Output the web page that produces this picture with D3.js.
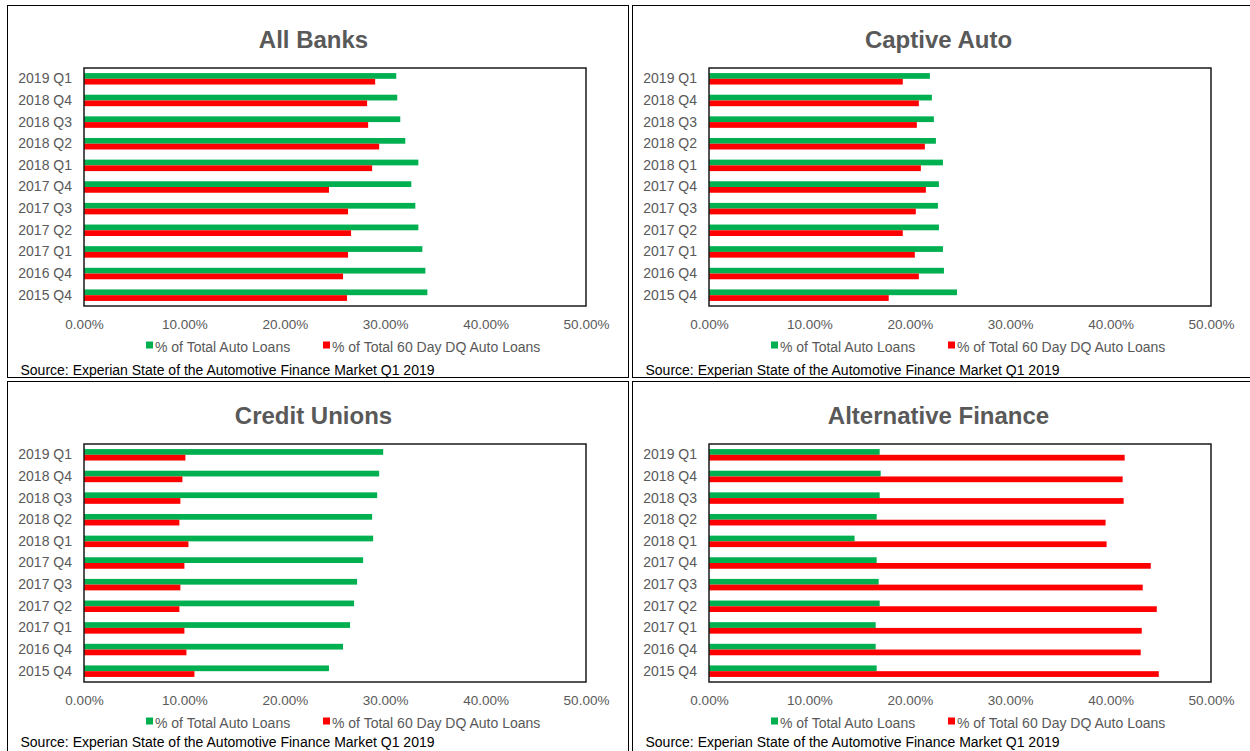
<!DOCTYPE html>
<html>
<head>
<meta charset="utf-8">
<script src="https://cdn.jsdelivr.net/npm/d3@7"></script>
<style>
  html, body { margin: 0; padding: 0; background: #fff; }
  svg { display: block; }
  text { font-family: "Liberation Sans", Arial, sans-serif; }
</style>
</head>
<body>
<svg id="chart" width="1250" height="751"></svg>
<script>
// ---- Data ----
const categories = ["2019 Q1","2018 Q4","2018 Q3","2018 Q2","2018 Q1","2017 Q4","2017 Q3","2017 Q2","2017 Q1","2016 Q4","2015 Q4"];
const seriesNames = ["% of Total Auto Loans", "% of Total 60 Day DQ Auto Loans"];
const panelTitles = ["All Banks", "Captive Auto", "Credit Unions", "Alternative Finance"];
const tickValues = [0, 0.1, 0.2, 0.3, 0.4, 0.5];
const sourceText = "Source: Experian State of the Automotive Finance Market Q1 2019";

const allBanksTotal = [31.1, 31.2, 31.5, 32.0, 33.3, 32.6, 33.0, 33.3, 33.7, 34.0, 34.2];
const allBanksDQ    = [29.0, 28.2, 28.3, 29.4, 28.7, 24.4, 26.3, 26.6, 26.3, 25.8, 26.2];
const captiveTotal  = [22.0, 22.2, 22.4, 22.6, 23.3, 22.9, 22.8, 22.9, 23.3, 23.4, 24.7];
const captiveDQ     = [19.3, 20.9, 20.7, 21.5, 21.1, 21.6, 20.6, 19.3, 20.5, 20.9, 17.9];
const cuTotal       = [29.8, 29.4, 29.2, 28.7, 28.8, 27.8, 27.2, 26.9, 26.5, 25.8, 24.4];
const cuDQ          = [10.1, 9.8, 9.6, 9.5, 10.4, 10.0, 9.6, 9.5, 10.0, 10.2, 11.0];
const altTotal      = [17.0, 17.1, 17.0, 16.7, 14.5, 16.7, 16.9, 17.0, 16.6, 16.6, 16.7];
const altDQ         = [41.4, 41.2, 41.3, 39.5, 39.6, 44.0, 43.2, 44.6, 43.1, 43.0, 44.8];

const panelData = [
  [allBanksTotal, allBanksDQ],
  [captiveTotal, captiveDQ],
  [cuTotal, cuDQ],
  [altTotal, altDQ]
];

// ---- Layout ----
const colors = ["#00B050", "#FF0000"];
const panelW = 621, panelH = 372;
const panelOrigins = [[7, 5], [632, 5], [7, 381], [632, 381]];
const sourceY = [370, 370, 366, 366];
const plot = { left: 77, right: 579, top: 63, bottom: 301 };

const svg = d3.select("#chart");

panelData.forEach((series, pi) => {
  const [ox, oy] = panelOrigins[pi];
  const g = svg.append("g").attr("transform", `translate(${ox},${oy})`);

  g.append("rect")
    .attr("x", 0.5).attr("y", 0.5)
    .attr("width", panelW).attr("height", panelH)
    .attr("fill", "#fff").attr("stroke", "#000").attr("stroke-width", 1);

  g.append("text")
    .attr("x", panelW / 2 - 4).attr("y", 42.5)
    .attr("text-anchor", "middle")
    .attr("font-size", 24).attr("font-weight", "bold")
    .attr("fill", "#595959")
    .text(panelTitles[pi]);

  const x = d3.scaleLinear().domain([0, 0.5]).range([plot.left, plot.right]);
  const y = d3.scaleBand().domain(categories).range([plot.top, plot.bottom])
    .paddingInner(0.47).paddingOuter(0.235);
  const ySub = d3.scaleBand().domain(d3.range(series.length)).range([0, y.bandwidth()]);

  const rows = categories.map((c, i) => ({ c, vals: series.map(s => s[i] / 100) }));

  const rowG = g.selectAll("g.row").data(rows).join("g")
    .attr("class", "row")
    .attr("transform", d => `translate(0,${y(d.c)})`);

  rowG.selectAll("rect").data(d => d.vals.map((v, si) => ({ v, si }))).join("rect")
    .attr("x", x(0))
    .attr("y", d => ySub(d.si))
    .attr("width", d => x(d.v) - x(0))
    .attr("height", ySub.bandwidth())
    .attr("fill", d => colors[d.si]);

  // plot border
  g.append("rect")
    .attr("x", plot.left).attr("y", plot.top)
    .attr("width", plot.right - plot.left).attr("height", plot.bottom - plot.top)
    .attr("fill", "none").attr("stroke", "#1a1a1a").attr("stroke-width", 1.5);

  // x axis
  const xAxis = g.append("g")
    .attr("transform", `translate(0,${plot.bottom})`)
    .call(d3.axisBottom(x).tickValues(tickValues).tickFormat(d3.format(".2%")).tickSize(0).tickPadding(13));
  xAxis.select(".domain").remove();
  xAxis.selectAll("text").attr("font-size", 13.5).attr("fill", "#595959")
    .attr("font-family", '"Liberation Sans", Arial, sans-serif');

  // y axis
  const yAxis = g.append("g")
    .attr("transform", `translate(${plot.left},0)`)
    .call(d3.axisLeft(y).tickSize(0).tickPadding(12));
  yAxis.select(".domain").remove();
  yAxis.selectAll("text").attr("font-size", 14).attr("fill", "#595959")
    .attr("font-family", '"Liberation Sans", Arial, sans-serif');

  // legend
  const legendX = [139, 316];
  seriesNames.forEach((name, si) => {
    const lg = g.append("g").attr("transform", `translate(${legendX[si]},336.5)`);
    lg.append("rect").attr("x", 0).attr("y", 0).attr("width", 7).attr("height", 7).attr("fill", colors[si]);
    lg.append("text").attr("x", 9).attr("y", 10.5).attr("font-size", 14).attr("fill", "#595959").text(name);
  });

  // source
  g.append("text")
    .attr("x", 13.5).attr("y", sourceY[pi])
    .attr("font-size", 14).attr("fill", "#000")
    .text(sourceText);
});
</script>
</body>
</html>
